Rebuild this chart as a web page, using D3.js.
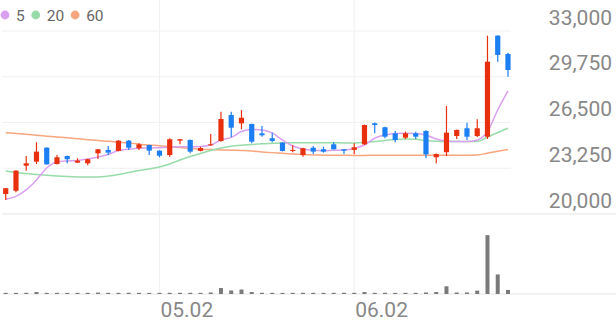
<!DOCTYPE html>
<html>
<head>
<meta charset="utf-8">
<script src="https://cdn.jsdelivr.net/npm/d3@7"></script>
<style>
  body { margin: 0; background: #fff; }
  svg { display: block; font-family: Roboto, "Noto Sans", sans-serif; }
</style>
</head>
<body>
<div id="chart"></div>
<script>
// Velas diarias (precio)
const opens  = [21420,21650,23430,23720,24710,23550,24120,23650,23600,24310,24550,24480,25210,24670,24900,24500,24190,25210,25260,24480,24880,25190,27030,26440,26400,25730,25380,25070,24480,24190,24710,24600,24950,24600,24550,24950,26440,26160,25730,25420,25730,25900,24030,24390,25540,26090,25540,25490,32670,31370];
const highs  = [21850,23100,24120,25100,24750,24190,24150,23960,23920,24620,24830,25250,25250,25020,24920,24520,25380,25320,25290,24780,25690,27270,27270,27390,26420,26250,25780,25100,24880,24700,24830,24780,25090,24620,25020,26350,26500,26200,25900,25850,25850,25950,24300,27670,26000,26490,26730,32670,32700,31450];
const lows   = [21000,21550,23080,23550,23500,23520,23600,23620,23460,23910,24190,24450,24550,24550,24190,24030,24070,24950,24310,24450,24850,25140,25450,26020,25020,25490,25100,24450,24390,24070,24260,24360,24580,24260,24240,24900,25730,25380,25090,25330,25330,23960,23600,24120,25330,25260,25470,25330,30820,29750];
const closes = [21830,23080,23600,24430,23530,24030,23890,23790,23890,24600,24360,25210,24710,24950,24500,24140,25310,25310,24430,24690,24950,26750,26130,26840,25140,25590,25190,24480,24550,24670,24430,24430,24600,24500,24740,26320,26320,25490,25260,25730,25490,24240,24260,25780,25970,25490,26090,30820,31300,30230];
const volumes = [30000,28000,31000,50000,29000,30000,28000,29000,30000,35000,30000,29000,31000,30000,28000,29000,30000,31000,30000,29000,38000,152000,89000,114000,50000,31000,30000,29000,30000,31000,30000,29000,30000,31000,30000,50000,30000,31000,29000,30000,30000,38000,50000,195000,38000,38000,86000,1490000,495000,103000];

// Medias móviles
const ma5  = [21050,21250,21710,22420,23270,23700,23770,23800,23910,24050,24230,24510,24600,24670,24690,24710,24730,24780,24780,24800,24900,25260,25440,25860,26000,25970,25760,25260,24830,24620,24530,24500,24530,24550,24660,24900,25380,25610,25720,25730,25720,25610,25330,25190,25150,25150,25260,25850,27390,28740];
const ma20 = [23060,22950,22880,22810,22750,22700,22660,22630,22620,22630,22700,22810,22950,23090,23200,23340,23550,23840,24090,24300,24510,24690,24820,24880,24940,24990,25020,25050,25060,25070,25070,25070,25060,25050,25050,25080,25150,25220,25300,25330,25310,25220,25170,25150,25150,25150,25150,25470,25790,26090];
const ma60 = [25780,25720,25660,25590,25530,25470,25410,25340,25280,25220,25160,25100,25040,24960,24900,24850,24780,24720,24660,24600,24580,24550,24530,24510,24480,24410,24360,24310,24260,24220,24190,24180,24170,24170,24160,24160,24170,24170,24180,24180,24180,24180,24170,24170,24180,24180,24190,24320,24460,24580];

const priceTicks = [33000, 29750, 26500, 23250, 20000];
const dateTicks = [{ i: 15, label: '05.02' }, { i: 34, label: '06.02' }];
const legendItems = [
    { label: '5', color: '#d9a0f0', values: ma5 },
    { label: '20', color: '#98dcaa', values: ma20 },
    { label: '60', color: '#f8a67f' , values: ma60 }
];

const width = 616;
const height = 321;
const UP = '#e8300e';
const DOWN = '#1b7ef2';

const svg = d3.select('#chart')
    .append('svg')
    .attr('width', width)
    .attr('height', height);

// Escalas
const x = d3.scaleLinear().domain([-0.5, closes.length - 0.5]).range([0.6, 513.1]);
const y = d3.scaleLinear().domain([20000, 33000]).range([214, 31]);
const yVol = d3.scaleLinear().domain([0, 2000000]).range([294, 215]);

// Rejilla horizontal
svg.append('g')
    .selectAll('line')
    .data(priceTicks)
    .enter()
    .append('line')
    .attr('x1', 2)
    .attr('x2', d => d === 20000 ? width : 511)
    .attr('y1', d => y(d))
    .attr('y2', d => y(d))
    .attr('stroke', d => d === 20000 ? '#e6e6e6' : '#f1f1f1')
    .attr('stroke-width', 1.2);

svg.append('line')
    .attr('x1', 2).attr('x2', width)
    .attr('y1', yVol(0)).attr('y2', yVol(0))
    .attr('stroke', '#e6e6e6')
    .attr('stroke-width', 1.2);

// Rejilla vertical
svg.append('g')
    .selectAll('line')
    .data(dateTicks)
    .enter()
    .append('line')
    .attr('x1', d => x(d.i))
    .attr('x2', d => x(d.i))
    .attr('y1', 0)
    .attr('y2', yVol(0))
    .attr('stroke', '#f1f1f1')
    .attr('stroke-width', 1.2);

// Etiquetas eje Y
svg.append('g')
    .selectAll('text')
    .data(priceTicks)
    .enter()
    .append('text')
    .attr('x', 612)
    .attr('y', d => y(d) - 6.5)
    .attr('text-anchor', 'end')
    .attr('font-size', '21px')
    .attr('fill', '#888')
    .text(d => d3.format(',')(d));

// Etiquetas eje X
svg.append('g')
    .selectAll('text')
    .data(dateTicks)
    .enter()
    .append('text')
    .attr('x', d => x(d.i) + 1)
    .attr('y', 317)
    .attr('font-size', '21px')
    .attr('fill', '#888')
    .text(d => d.label);

// Volumen
svg.append('g')
    .selectAll('rect')
    .data(volumes)
    .enter()
    .append('rect')
    .attr('x', (d, i) => x(i) - 2)
    .attr('width', 4)
    .attr('y', d => yVol(d))
    .attr('height', d => yVol(0) - yVol(d))
    .attr('fill', '#7a7a7a');

// Medias móviles
const line = d3.line()
    .x((d, i) => x(i))
    .y(d => y(d))
    .curve(d3.curveMonotoneX);

svg.append('g')
    .selectAll('path')
    .data(legendItems.slice().reverse())
    .enter()
    .append('path')
    .attr('d', d => line(d.values))
    .attr('fill', 'none')
    .attr('stroke', d => d.color)
    .attr('stroke-width', 1.5);

// Velas
const candles = svg.append('g')
    .selectAll('g')
    .data(closes.map((c, i) => ({ i, o: opens[i], h: highs[i], l: lows[i], c })))
    .enter()
    .append('g');

candles.append('line')
    .attr('x1', d => x(d.i))
    .attr('x2', d => x(d.i))
    .attr('y1', d => y(d.h))
    .attr('y2', d => y(d.l))
    .attr('stroke', d => d.c >= d.o ? UP : DOWN)
    .attr('stroke-width', 1.2);

candles.append('rect')
    .attr('x', d => x(d.i) - 2.6)
    .attr('width', 5.2)
    .attr('y', d => y(Math.max(d.o, d.c)))
    .attr('height', d => Math.max(1, Math.abs(y(d.o) - y(d.c))))
    .attr('fill', d => d.c >= d.o ? UP : DOWN);

// Leyenda
const legend = svg.append('g');
let cx = 5;
legendItems.forEach(item => {
    legend.append('circle')
        .attr('cx', cx)
        .attr('cy', 15)
        .attr('r', 4.4)
        .attr('fill', item.color);
    const t = legend.append('text')
        .attr('x', cx + 11)
        .attr('y', 21)
        .attr('font-size', '15.5px')
        .attr('fill', '#666')
        .text(item.label);
    cx = cx + 11 + t.node().getComputedTextLength() + 11;
});
</script>
</body>
</html>
